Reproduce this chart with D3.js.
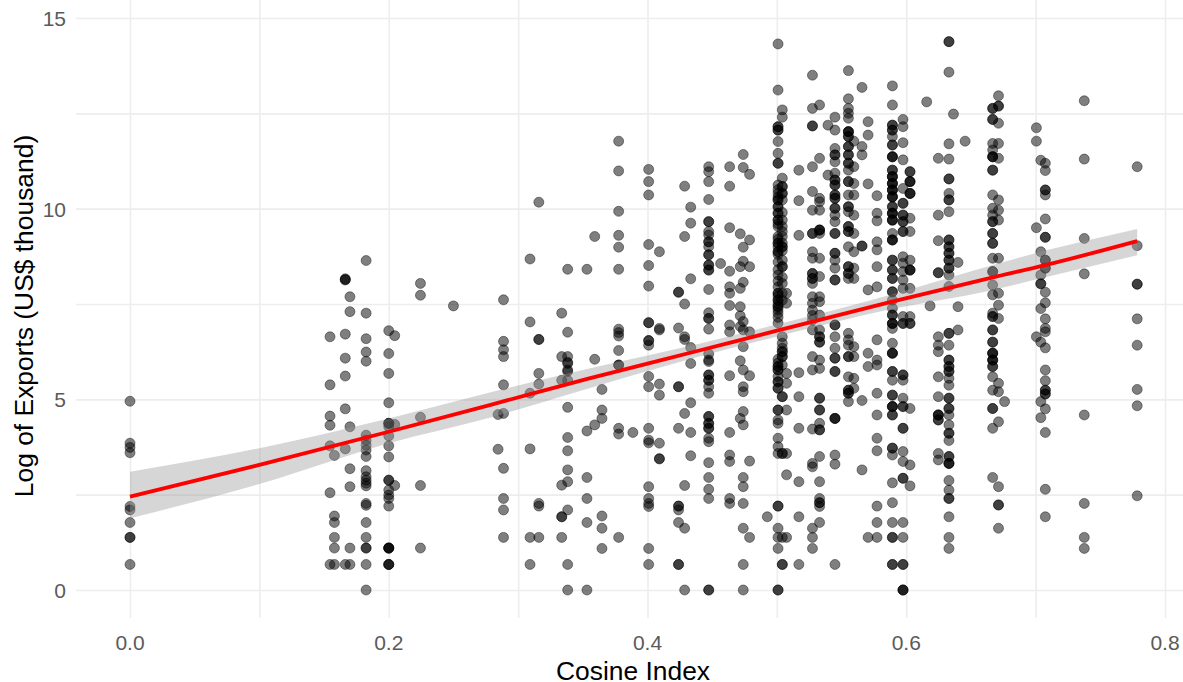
<!DOCTYPE html>
<html><head><meta charset="utf-8">
<script src="https://cdn.jsdelivr.net/npm/d3@7"></script>
<style>html,body{margin:0;padding:0;background:#fff;overflow:hidden}svg{display:block}text{font-family:"Liberation Sans",Arial,sans-serif}</style>
</head><body><div id="chart"></div>
<script>
const xTicks=[0,0.2,0.4,0.6,0.8];
const yTicks=[0,5,10,15];
const xMinor=[0.1,0.3,0.5,0.7];
const yMinor=[2.5,7.5,12.5];
const xTitle="Cosine Index";
const yTitle="Log of Exports (US$ thousand)";
const cosine=[0,.1546,.158,.1664,.170,.1825,.2,.2046,.2245,.25,.2845,.2887,.3092,.316,.3337,.3383,.3532,.3592,.3648,.3777,.3887,.4009,.4092,.424,.4287,.4334,.4473,.4565,.4635,.4717,.474,.4789,.4926,.5009,.5042,.5075,.517,.5275,.533,.5395,.5449,.5553,.5595,.5658,.5705,.5774,.5893,.5975,.6029,.6158,.6184,.6248,.633,.6365,.64,.6455,.6668,.6713,.676,.7006,.704,.7075,.7376,.7785];
const logExports=[
[4.95,3.85,3.74,3.6,2.19,2.1,1.77,1.38,1.38,.67],
[6.64,5.38,4.56,4.32,3.78,2.55,.67],
[3.53,1.94,1.77,1.38,1.1,.67],
[8.16,8.14,8.13,6.71,6.08,5.61,4.75,3.7,.67],
[7.69,7.3,4.28,3.18,2.71,1.1,.67],
[8.64,7.26,6.59,6.24,6,4.06,3.93,3.8,3.67,3.5,3.13,2.97,2.88,2.8,2.73,2.27,2.22,1.77,1.38,1.1,1.1,.67,0],
[6.8,6.2,5.68,4.91,4.37,4.37,4.37,4.28,4.04,3.78,3.49,2.88,2.88,2.62,2.49,2.4,2.2,1.1,1.1,1.1,1.1,.67,.67,.67],
[6.67,4.34,2.74],
[8.04,7.73,4.53,2.74,1.1],
[7.45],
[4.6,3.69],
[7.61,6.52,6.3,6.12,5.38,4.63,3.19,2.4,2.1,1.38],
[8.68,7.03,5.16,3.7,1.38,.67],
[10.17,6.57,6.57,5.68,5.4,2.27,2.2,1.38],
[7.26,6.12,5.5,2.75,1.92,1.92,1.38],
[8.41,6.76,6.12,5.97,5.77,5.94,5.73,5.5,4.79,4,3.65,3.15,2.84,2.1,.67,0],
[8.41,4.17,2.95,2.4,1.77,0],
[9.27,6.05,4.33],
[5.26,4.72,4.5,1.94,1.62,1.09],
[11.77,10.99,9.93,9.3,8.99,8.41,6.84,6.75,6.66,6.28,5.9,5.9,4.24,4.09,1.38],
[4.13],
[11.03,10.71,10.36,9.06,8.51,7.97,7.01,7.01,6.54,6.54,6.42,5.6,5.33,4.24,3.93,3.86,2.71,2.4,2.27,2.19,1.09,.67],
[8.87,6.86,6.82,5.4,5.11,3.85,3.44,3.44],
[7.81,7.81,6.87,5.33,5.33,4.24,2.2,2.2,2.1,1.77,.67,.67],
[10.59,9.27,7.5,6.64,6.57,4.63,2.74,1.62,0],
[10.04,9.62,8.16,6.36,5.94,4.91,4.13,3.52],
[11.1,10.97,10.71,10.24,9.66,9.66,9.4,9.31,9.13,9.13,9,8.79,8.79,8.52,8.52,8.39,8.39,7.88,7.27,7.12,7.12,6.84,6.19,6.03,5.99,5.64,5.64,5.5,5.5,5.33,5.16,4.55,4.55,4.37,4.37,4.24,4.24,3.98,3.89,3.34,2.95,2.64,2.4,0,0],
[8.56],
[11.1,10.59,9.5,8.36,7.95,7.78,7.46,6.95,6.77,5.62,4.13,3.54,3.37,2.4,2.27],
[9.34,8.48,7.91,7.43,7.19,6.91,6.01,4.5],
[11.42,11.08,8.99,8.62,8.07,7.04,6.82,6.38,5.77,5.33,5.2,4.68,4.33,2.95,2.71,2.27,1.62,.67,0],
[10.9,9.18,8.48,6.77,5.62,3.38,1.38],
[1.92],
[14.32,13.11,12.15,12.15,12.06,12.06,11.76,11.45,11.19,11.19,10.62,10.5,10.4,10.3,10.23,10.23,10.05,10.05,9.88,9.88,9.7,9.7,9.6,9.53,9.27,9.2,9.09,9.09,9,8.87,8.87,8.8,8.6,8.4,8.26,8.1,7.95,7.78,7.78,7.7,7.6,7.6,7.5,7.43,7.43,7.35,7.26,7.15,7,6.05,5.95,5.86,5.86,5.77,5.77,5.6,5.46,5.46,5.29,5.29,4.72,4.72,4.46,4.37,3.98,3.76,3.58,2.2,2.2,1.62,1.38,1.09,0,0],
[12.59,12.4,10.8,10.58,10.58,10.4,10.4,10.23,9.9,9.7,9.53,9.4,9.27,9.1,9,9,8.9,8.65,8.48,8.48,8.2,8.04,7.78,7.6,6.64,6.47,6.34,6.25,6.25,6.12,6.12,5.9,5.07,5.07,3.58,3.58,1.38,.67,.67],
[7.78,7.52,5.68,5.42,4.72,3.58,3.02,1.38],
[11.01,10.21,9.3,5.7,5.07,4.24,2.84,1.92,.67],
[13.5,12.63,12.17,12.17,11.1,10.45,9.96,9.35,9.35,8.87,8.7,8.3,8.3,8.17,8.17,8.04,7.69,7.52,7.34,7.2,7.08,6.82,6.12,5.77,4.22,3.32,3.23,1.62,1.38,1.09],
[12.72,11.32,10.27,10.18,9.96,9.44,9.44,9.44,9.35,8.7,8.22,7.69,7.56,7.21,6.82,6.64,6.64,6.5,6.5,6.03,5.81,5.03,5.03,4.72,4.72,4.37,4.2,4.2,3.5,2.84,2.4,2.29,2.29,2.19,1.77],
[12.19,10.88],
[12.4,12.06,11.58,11.41,11.41,11.23,10.93,10.75,10.75,10.62,10.62,10.36,10.36,10.27,10.27,10.01,10.01,9.83,9.66,9.35,9.35,8.83,8.83,8.65,8.44,8.13,8.13,6.95,6.95,6.64,6.34,6.08,6.08,5.73,5.73,4.5,4.5,4.5,3.54,3.3,.67],
[13.62,12.88,12.63,12.5,12.37,12.02,12.02,12.02,11.89,11.89,11.63,11.63,11.41,11.41,11.19,11.19,11.01,10.71,10.71,10.36,10.05,10.05,9.92,9.53,9.53,9.4,9.4,9,8.48,8.48,8.3,8.3,8.17,6.73,6.56,6.42,6.12,6.12,5.59,5.24,5.24,5.16,5.16,4.94],
[11.77,11.1,10.66,10.36,9.83,9.35,8.87,8.44,8.17,6.38,6.12,5.55,5.29],
[13.18,11.63,11.41,9.02,9.02,3.15,4.97],
[12.28,11.93,10.65,7.87,6.21,5.86,1.38],
[10.34,9.88,9.68,9.13,8.92,8.48,7.95,6.56,6.03,5.9,5.16,4.59,3.98,3.65,2.2,1.77,1.38],
[13.22,12.72,12.19,12.19,12.06,12.06,11.89,11.67,11.67,11.36,11.36,11.36,11.01,11.01,10.84,10.84,10.84,10.66,10.66,10.66,10.49,10.49,10.49,10.31,10.31,10.31,10.05,10.05,9.88,9.88,9.88,9.7,9.7,9.7,9.35,9.18,9.18,9.18,8.65,8.65,8.39,8.39,8.17,8.17,7.82,7.82,7.6,7.39,7.21,7.21,6.99,6.99,6.99,6.86,6.47,6.21,6.21,6.21,5.73,5.73,5.5,5.11,5.11,4.81,4.81,4.81,4.59,4.59,3.72,3.72,3.54,2.81,2.29,1.77,1.38,1.38,.67,.67],
[12.34,12.15,11.73,11.28,10.53,10.14,10.14,9.83,9.83,9.66,9.66,9.4,9.4,8.74,8.57,8.35,8.13,7.91,7.17,6.99,6.99,5.64,5.64,5.5,5.03,4.81,4.81,4.24,4.24,3.63,3.37,2.93,2.93,1.77,1.38,.67,.67,0,0,0],
[10.97,10.97,10.71,10.71,10.71,10.4,10.4,10.4,9.75,9.4,8.65,8.39,8.39,8.39,7.91,7.17,6.99,6.99,4.76,3.28,2.73],
[12.8],
[7.45],
[11.32,9.83,9.16,8.32,8.32,6.64,6.42,6.25,5.59,5.07,4.59,4.59,4.59,4.46,4.46,3.58,3.41],
[14.38,14.38,13.58,11.7,11.3,10.78,10.78,10.4,10.23,10.23,9.92,9.18,9.18,9,9,8.83,8.83,8.65,8.65,8.44,8.44,8.26,7.96,6.73,6.73,6.42,6.03,6.03,5.86,5.86,5.73,5.73,5.55,5.37,5.03,5.03,4.76,4.76,4.59,4.33,4.11,4.11,3.92,3.5,3.5,3.32,3.32,3.32,2.87,2.62,2.4,2.4,1.92,1.38,1.09],
[12.48],
[8.59,7.43,6.82],
[11.77],
[12.63,12.63,12.34,12.34,11.71,11.54,11.36,11.36,11.36,11.01,11.01,10.36,10.01,9.83,9.66,9.66,9.35,9.35,9.09,9.09,8.7,8.35,8.35,8,7.74,7.26,7.17,7.17,6.82,6.82,6.5,6.5,6.21,6.21,6.21,6.03,6.03,6.03,5.86,5.86,5.59,5.24,4.76,4.76,4.24,2.95],
[12.96,12.69,12.69,12.24,11.71,11.32,10.23,9.96,9.7,8.7,7.78,7.47,7.12,5.42,5.2,4.41,2.71,2.23,2.23,1.62],
[4.94],
[12.12,11.77,9.5,6.64],
[11.27,8.87,8.26,8.03,8.03,7.38,6.5,4.94,4.52],
[11.19,11,10.49,10.49,10.36,9.73,9.25,9.25,8.65,8.65,8.44,8.44,7.81,7.53,7.11,6.86,6.77,6.35,5.77,5.49,5.24,5.24,5.14,5.14,4.75,4.13,2.64,1.92],
[12.83,11.3,9.22,8.29,4.59,2.27,1.38,1.09],
[11.1,9.03,8.02,8.02,7.11,6.42,5.26,4.83,2.47]
];
const fitX=[0,.1,.2,.278,.355,.44,.5,.589,.667,.7075,.7785];
const fitY=[2.45,3.28,4.15,4.85,5.55,6.28,6.8,7.56,8.2,8.52,9.15];
const fitLo=[1.88,2.78,3.85,4.52,5.29,6.12,6.65,7.37,7.87,8.2,8.78];
const fitHi=[3.1,3.72,4.5,5.18,5.81,6.46,6.96,7.75,8.52,8.9,9.47];

const W=1183,H=682;
const x=d3.scaleLinear().domain([0,0.8]).range([130,1165]);
const y=d3.scaleLinear().domain([0,15]).range([590,18]);
const panelL=76,panelR=1183,panelT=0,panelB=618;
const svg=d3.select("#chart").append("svg").attr("width",W).attr("height",H);
const grid=svg.append("g").attr("fill","none");
const gx=d3.axisBottom(x).tickValues(xTicks.concat(xMinor)).tickSize(panelB-panelT).tickFormat("");
const gy=d3.axisLeft(y).tickValues(yTicks.concat(yMinor)).tickSize(panelR-panelL).tickFormat("");
grid.append("g").attr("transform",`translate(0,${panelT})`).call(gx).call(g=>g.select(".domain").remove());
grid.append("g").attr("transform",`translate(${panelR},0)`).call(gy).call(g=>g.select(".domain").remove());
grid.selectAll("line").attr("stroke","#ededed").attr("stroke-width",1.6);

const pts=cosine.flatMap((c,i)=>logExports[i].map(v=>({c,v})));
svg.append("g").selectAll("circle").data(pts).join("circle")
 .attr("cx",d=>x(d.c)).attr("cy",d=>y(d.v)).attr("r",5)
 .attr("fill","#000").attr("fill-opacity",.5)
 .attr("stroke","#000").attr("stroke-opacity",.4).attr("stroke-width",1);

const fit=fitX.map((c,i)=>({c,m:fitY[i],lo:fitLo[i],hi:fitHi[i]}));
svg.append("path").datum(fit)
 .attr("d",d3.area().curve(d3.curveMonotoneX).x(d=>x(d.c)).y0(d=>y(d.lo)).y1(d=>y(d.hi)))
 .attr("fill","#999").attr("fill-opacity",.4);
svg.append("path").datum(fit)
 .attr("d",d3.line().curve(d3.curveMonotoneX).x(d=>x(d.c)).y(d=>y(d.m)))
 .attr("fill","none").attr("stroke","#ff0000").attr("stroke-width",3.8);

const tick=svg.append("g").attr("fill","#5a5a5a").attr("font-size",21);
tick.selectAll("text.x").data(xTicks).join("text").attr("class","x")
 .attr("x",d=>x(d)).attr("y",650).attr("text-anchor","middle").text(d3.format(".1f"));
tick.selectAll("text.y").data(yTicks).join("text").attr("class","y")
 .attr("x",66).attr("y",d=>y(d)+8).attr("text-anchor","end").text(d=>d);
svg.append("text").attr("x",633).attr("y",680).attr("text-anchor","middle").attr("font-size",26.4).attr("fill","#000").text(xTitle);
svg.append("text").attr("transform","translate(33,316) rotate(-90)").attr("text-anchor","middle").attr("font-size",26.4).attr("fill","#000").text(yTitle);
</script></body></html>
